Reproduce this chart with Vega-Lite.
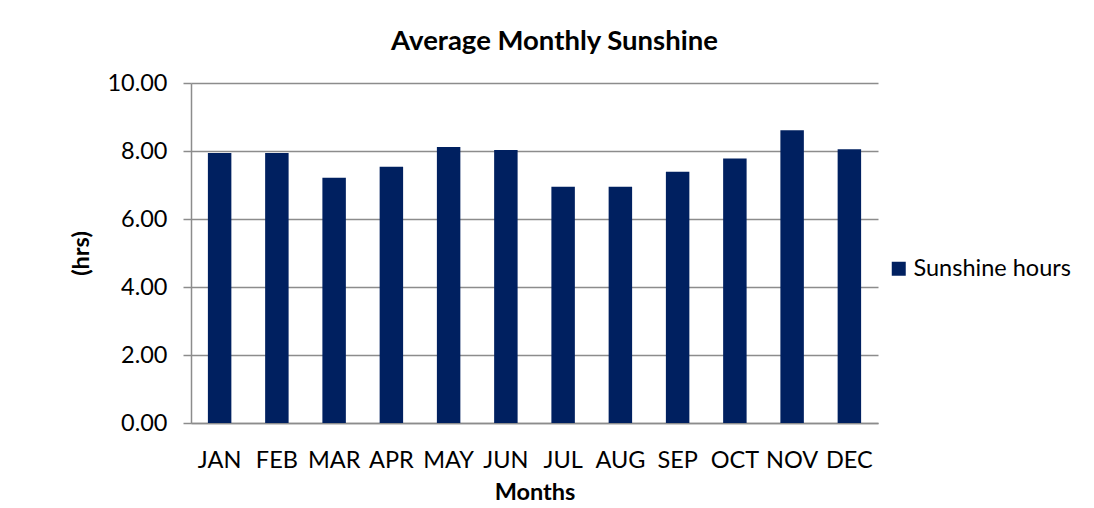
{
  "$schema": "https://vega.github.io/schema/vega-lite/v6.json",
  "autosize": "none",
  "width": 687,
  "height": 340,
  "padding": {"left": 191, "top": 83, "right": 216, "bottom": 85},
  "background": "white",
  "title": {
    "text": "Average Monthly Sunshine",
    "font": "Lato",
    "fontSize": 27.5,
    "fontWeight": "bold",
    "color": "#000000",
    "anchor": "middle",
    "frame": "group",
    "baseline": "alphabetic",
    "offset": 19,
    "dy": 25,
    "dx": 20
  },
  "data": {
    "values": [
      {"month": "JAN", "hours": 7.94, "series": "Sunshine hours"},
      {"month": "FEB", "hours": 7.94, "series": "Sunshine hours"},
      {"month": "MAR", "hours": 7.21, "series": "Sunshine hours"},
      {"month": "APR", "hours": 7.54, "series": "Sunshine hours"},
      {"month": "MAY", "hours": 8.12, "series": "Sunshine hours"},
      {"month": "JUN", "hours": 8.03, "series": "Sunshine hours"},
      {"month": "JUL", "hours": 6.95, "series": "Sunshine hours"},
      {"month": "AUG", "hours": 6.95, "series": "Sunshine hours"},
      {"month": "SEP", "hours": 7.39, "series": "Sunshine hours"},
      {"month": "OCT", "hours": 7.78, "series": "Sunshine hours"},
      {"month": "NOV", "hours": 8.61, "series": "Sunshine hours"},
      {"month": "DEC", "hours": 8.05, "series": "Sunshine hours"}
    ]
  },
  "mark": {"type": "bar"},
  "encoding": {
    "x": {
      "field": "month",
      "type": "nominal",
      "sort": null,
      "scale": {"paddingInner": 0.59, "paddingOuter": 0.295},
      "axis": {
        "title": "Months",
        "labelAngle": 0,
        "ticks": false,
        "labelPadding": 25,
        "domainColor": "#8c8c8c",
        "domainWidth": 1.5,
        "titlePadding": 9
      }
    },
    "y": {
      "field": "hours",
      "type": "quantitative",
      "scale": {"domain": [0, 10]},
      "axis": {
        "title": "(hrs)",
        "values": [0, 2, 4, 6, 8, 10],
        "format": ".2f",
        "tickSize": 8,
        "labelPadding": 16,
        "tickColor": "#8c8c8c",
        "tickWidth": 1.5,
        "domainColor": "#8c8c8c",
        "domainWidth": 1.5,
        "gridColor": "#8c8c8c",
        "gridWidth": 1.5,
        "titlePadding": 13
      }
    },
    "color": {
      "field": "series",
      "type": "nominal",
      "scale": {"range": ["#002060"]},
      "legend": {
        "title": null,
        "orient": "none",
        "legendX": 696,
        "legendY": 174,
        "symbolType": "square",
        "symbolSize": 196,
        "symbolStrokeWidth": 0,
        "labelFont": "Lato",
        "labelFontSize": 23.5,
        "labelColor": "#000000",
        "labelOffset": 3
      }
    }
  },
  "config": {
    "view": {"stroke": null},
    "axis": {
      "labelFont": "Lato",
      "labelFontSize": 23.5,
      "labelColor": "#000000",
      "titleFont": "Lato",
      "titleFontSize": 23.5,
      "titleFontWeight": "bold",
      "titleColor": "#000000"
    }
  }
}
